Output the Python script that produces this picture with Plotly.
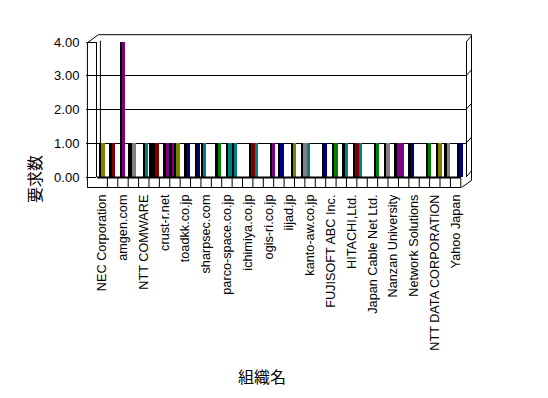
import plotly.graph_objects as go

# ---------------- data ----------------
_ = None
n_categories = 35
# only every other category is labelled on the axis
category_labels = ["NEC Corporation", "amgen.com", "NTT COMWARE", "crust-r.net", "toadkk.co.jp",
                   "sharpsec.com", "parco-space.co.jp", "ichimiya.co.jp", "ogis-ri.co.jp", "iijad.jp",
                   "kanto-aw.co.jp", "FUJISOFT ABC Inc.", "HITACHI,Ltd.", "Japan Cable Net Ltd.",
                   "Nanzan University", "Network Solutions", "NTT DATA CORPORATION", "Yahoo Japan"]
value_ticks = [0, 1, 2, 3, 4]
value_tick_labels = ["0.00", "1.00", "2.00", "3.00", "4.00"]

series_1 = [_, _, _, 1, _,  1, _, 1, _, _,  1, _, _, 1, _,  1, _, _, _, _,  1, _, _, _, _,  1, _, _, _, 1,  1, _, _, _, _]
series_2 = [1, 1, 4, 1, _,  1, _, _, _, _,  _, _, _, _, _,  _, _, _, _, _,  _, _, _, _, _,  _, _, _, _, _,  _, _, _, _, _]
series_3 = [_, _, _, _, 1,  1, 1, 1, 1, 1,  _, 1, 1, _, _,  _, _, 1, _, _,  _, _, _, _, _,  _, _, _, _, _,  _, _, _, 1, _]
series_4 = [_, _, _, _, _,  _, _, _, _, _,  _, _, _, _, 1,  _, 1, _, 1, 1,  _, 1, 1, 1, 1,  _, 1, 1, 1, _,  _, 1, 1, _, 1]

NV, MA, PU, OL, GY, TE, GR = "#000080", "#800000", "#800080", "#808000", "#808080", "#008080", "#008000"
colors_1 = [_, _, _, NV, _,  NV, _, PU, _, _,  TE, _, _, TE, _,  TE, _, _, _, _,  TE, _, _, _, _,  TE, _, _, _, PU,  NV, _, _, _, _]
colors_2 = [OL, MA, PU, GY, _,  GR, _, _, _, _,  _, _, _, _, _,  _, _, _, _, _,  _, _, _, _, _,  _, _, _, _, _,  _, _, _, _, _]
colors_3 = [_, _, _, _, TE,  MA, PU, OL, NV, NV,  _, GR, TE, _, _,  _, _, NV, _, _,  _, _, _, _, _,  _, _, _, _, _,  _, _, _, GY, _]
colors_4 = [_, _, _, _, _,  _, _, _, _, _,  _, _, _, _, MA,  _, PU, _, OL, GY,  _, NV, GR, TE, MA,  _, GR, GY, PU, _,  _, GR, OL, _, NV]

series_values = [series_1, series_2, series_3, series_4]
series_colors = [colors_1, colors_2, colors_3, colors_4]

# ---------------- layout geometry (window pixels, page body has an 8px margin) ----------------
OFF = 8
W, H = 532, 382
L, T = 96.6 - OFF, 42.3 - OFF
PLOT_R, PLOT_B = 466.5 - OFF, 177.5 - OFF
R, B = W - PLOT_R, H - PLOT_B
PW, PH = PLOT_R - L, PLOT_B - T


def px(x):  # window pixel x -> paper
    return (x - OFF - L) / PW


def py(y):  # window pixel y -> paper
    return 1 - (y - OFF - T) / PH


def vy(v):  # value -> window pixel y
    return OFF + T + (4 - v) / 4 * PH


slot_offsets = [-0.315, -0.095, 0.125, 0.345]
face_w, side_w = 0.32, 0.18

fig = go.Figure()
for s, (vals, cols) in enumerate(zip(series_values, series_colors)):
    xs = [i for i, v in enumerate(vals) if v is not None]
    ys = [vals[i] for i in xs]
    cs = [cols[i] for i in xs]
    fig.add_bar(x=xs, y=ys, offset=slot_offsets[s] - side_w, width=side_w,
                marker=dict(color="black", line=dict(width=0)), showlegend=False, hoverinfo="skip")
    fig.add_bar(x=xs, y=ys, offset=slot_offsets[s], width=face_w,
                marker=dict(color=cs, line=dict(width=0)), showlegend=False)

line = dict(color="black", width=1)
shapes = []


def seg(x0, y0, x1, y1, w=1):
    shapes.append(dict(type="line", xref="paper", yref="paper", x0=px(x0), y0=py(y0),
                       x1=px(x1), y1=py(y1), line=dict(color="black", width=w)))


# left wall / frame
seg(87, 43, 87, 188)
seg(87, 43, 98, 35)
seg(98, 35, 472, 35)
seg(472, 35, 472, 181)
seg(462, 188, 472, 181)
seg(100, 41, 100, 178)
for v in value_ticks:
    seg(466.5, vy(v), 472, vy(v) - 6)
# floor strip
x_end = 96.6 + 35 * (466.5 - 96.6) / 35.5
seg(87, 188, x_end, 188)
seg(x_end, 178, x_end, 188)
seg(96.6, 178, x_end, 178, w=2)
for k in range(n_categories - 1):
    shapes.append(dict(type="line", xref="x", yref="paper", x0=k + 0.5, x1=k + 0.5,
                       y0=py(178), y1=py(188), line=line))

xfont = dict(family="Liberation Sans, Arial, sans-serif", size=12.7, color="black")
yfont = dict(family="Liberation Sans, Arial, sans-serif", size=13, color="black")
cjk = "Noto Sans CJK JP"

fig.update_layout(
    width=W, height=H, autosize=False,
    margin=dict(l=L, r=R, t=T, b=B, autoexpand=False),
    paper_bgcolor="white", plot_bgcolor="white",
    barmode="overlay", bargap=0,
    font=xfont,
    shapes=shapes,
    xaxis=dict(range=[-0.5, 35], tickmode="array", tickvals=list(range(0, n_categories, 2)),
               ticktext=category_labels, tickangle=-90, ticks="", showgrid=False,
               zeroline=False, showline=False, ticklabelstandoff=14, tickfont=xfont, fixedrange=True),
    yaxis=dict(range=[0, 4], tickmode="array", tickvals=value_ticks, ticktext=value_tick_labels,
               showgrid=True, gridcolor="black", gridwidth=1, zeroline=False,
               showline=True, linecolor="black", linewidth=1, mirror=True,
               ticks="outside", ticklen=10, tickcolor="black", tickwidth=1,
               ticklabelstandoff=4, tickfont=yfont, fixedrange=True),
    annotations=[
        dict(text="組織名", xref="paper", yref="paper", x=px(262), y=py(377), showarrow=False,
             xanchor="center", yanchor="middle", font=dict(family=cjk, size=16, color="black")),
        dict(text="要求数", xref="paper", yref="paper", x=px(34), y=py(180), showarrow=False,
             textangle=-90, xanchor="center", yanchor="middle",
             font=dict(family=cjk, size=16, color="black")),
    ],
)

fig.write_html("out.html")
